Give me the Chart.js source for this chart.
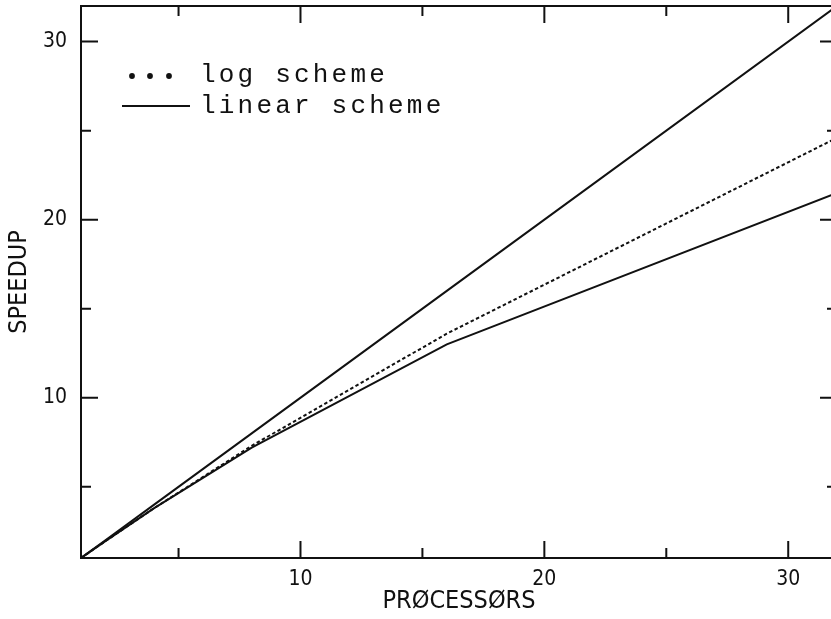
<!DOCTYPE html>
<html>
<head>
<meta charset="utf-8">
<script src="https://cdn.jsdelivr.net/npm/chart.js@4.4.1/dist/chart.umd.min.js"></script>
<style>
  html, body { margin: 0; padding: 0; background: #fff; overflow: hidden; width: 831px; height: 619px; }
</style>
</head>
<body>
<canvas id="grafico"></canvas>
<script>
// processors and speedups
const processadores = [1, 2, 4, 8, 16, 32]
const ideal = [1, 2, 4, 8, 16, 32]
const esquemaLog = [1, 1.95, 3.8, 7.3, 13.6, 24.6]
const esquemaLinear = [1, 1.95, 3.8, 7.2, 13.0, 21.5]

const marcasMaiores = [10, 20, 30]
const marcasMenores = [5, 15, 25]

const fonteEixo = '"Liberation Sans Narrow", "DejaVu Sans Condensed", "Liberation Sans", sans-serif'
const fonteLegenda = '"Liberation Mono", "DejaVu Sans Mono", monospace'

function pontos(valores) {
    return processadores.map((p, i) => ({ x: p, y: valores[i] }))
}

// frame with inward ticks on all four sides, plus the legend
const moldura = {
    id: 'moldura',
    afterDraw(chart) {
        const { ctx, chartArea: a, scales: { x, y } } = chart
        ctx.save()
        ctx.strokeStyle = '#111'
        ctx.lineWidth = 2
        ctx.strokeRect(a.left, a.top, a.right - a.left, a.bottom - a.top)
        ctx.beginPath()
        marcasMaiores.concat(marcasMenores).forEach(v => {
            const len = marcasMaiores.includes(v) ? 17 : 10
            const px = x.getPixelForValue(v)
            ctx.moveTo(px, a.bottom); ctx.lineTo(px, a.bottom - len)
            ctx.moveTo(px, a.top); ctx.lineTo(px, a.top + len)
            const py = y.getPixelForValue(v)
            ctx.moveTo(a.left, py); ctx.lineTo(a.left + len, py)
            ctx.moveTo(a.right, py); ctx.lineTo(a.right - len, py)
        })
        ctx.stroke()

        // legend
        ctx.fillStyle = '#111'
        ctx.font = '26px ' + fonteLegenda
        ctx.letterSpacing = '3.2px'
        ctx.textBaseline = 'alphabetic'
        ctx.fillText('log scheme', 200, 82)
        ctx.fillText('linear scheme', 200, 113)
        ;[132, 150, 169].forEach(cx => {
            ctx.beginPath()
            ctx.arc(cx, 76, 2.9, 0, Math.PI * 2)
            ctx.fill()
        })
        ctx.beginPath()
        ctx.lineWidth = 2
        ctx.moveTo(122, 106); ctx.lineTo(190, 106)
        ctx.stroke()
        ctx.restore()
    }
}

const ctx = document.getElementById('grafico').getContext('2d')
ctx.canvas.width = 845
ctx.canvas.height = 619

const grafico = new Chart(ctx, {
    type: 'line',
    data: {
        datasets: [{
            label: 'ideal',
            data: pontos(ideal),
            borderColor: '#111',
            borderWidth: 2
        }, {
            label: 'log scheme',
            data: pontos(esquemaLog),
            borderColor: '#111',
            borderWidth: 2,
            borderDash: [3.5, 2.5]
        }, {
            label: 'linear scheme',
            data: pontos(esquemaLinear),
            borderColor: '#111',
            borderWidth: 2
        }]
    },
    options: {
        responsive: false,
        animation: false,
        events: [],
        layout: { padding: { top: 6, right: 8, left: 0, bottom: 0 } },
        elements: { point: { radius: 0 }, line: { tension: 0 } },
        plugins: { legend: { display: false }, tooltip: { enabled: false } },
        scales: {
            x: {
                type: 'linear',
                min: 1,
                max: 32,
                grid: { display: false, drawTicks: false },
                border: { display: false },
                afterBuildTicks: s => { s.ticks = marcasMaiores.map(v => ({ value: v })) },
                afterFit: s => { s.height = 61; s.paddingLeft = 0; s.paddingRight = 0 },
                ticks: { color: '#111', padding: 9, maxRotation: 0, font: { family: fonteEixo, size: 21 } },
                title: {
                    display: true,
                    text: 'PRØCESSØRS',
                    color: '#111',
                    padding: { top: 0, bottom: 3 },
                    font: { family: fonteEixo, size: 25 }
                }
            },
            y: {
                type: 'linear',
                min: 1,
                max: 32,
                grid: { display: false, drawTicks: false },
                border: { display: false },
                afterBuildTicks: s => { s.ticks = marcasMaiores.map(v => ({ value: v })) },
                afterFit: s => { s.width = 81; s.paddingTop = 0; s.paddingBottom = 0 },
                ticks: { color: '#111', padding: 14, font: { family: fonteEixo, size: 21 } },
                title: {
                    display: true,
                    text: 'SPEEDUP',
                    color: '#111',
                    padding: { top: 4, bottom: 0 },
                    font: { family: fonteEixo, size: 25 }
                }
            }
        }
    },
    plugins: [moldura]
})
</script>
</body>
</html>
